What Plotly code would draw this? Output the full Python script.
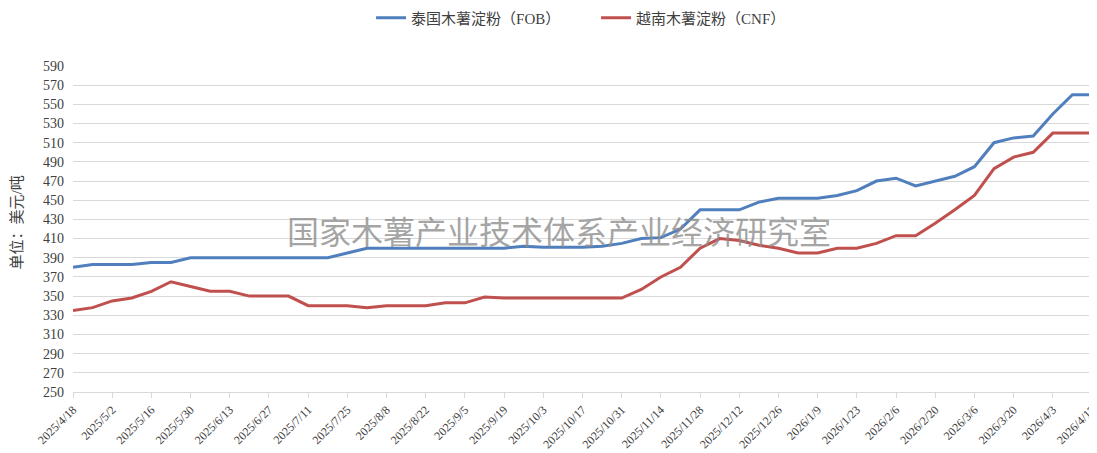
import plotly.graph_objects as go

dates = [
    "2025/4/18", "2025/4/25", "2025/5/2", "2025/5/9", "2025/5/16", "2025/5/23", "2025/5/30",
    "2025/6/6", "2025/6/13", "2025/6/20", "2025/6/27", "2025/7/4", "2025/7/11", "2025/7/18",
    "2025/7/25", "2025/8/1", "2025/8/8", "2025/8/15", "2025/8/22", "2025/8/29", "2025/9/5",
    "2025/9/12", "2025/9/19", "2025/9/26", "2025/10/3", "2025/10/10", "2025/10/17", "2025/10/24",
    "2025/10/31", "2025/11/7", "2025/11/14", "2025/11/21", "2025/11/28", "2025/12/5", "2025/12/12",
    "2025/12/19", "2025/12/26", "2026/1/2", "2026/1/9", "2026/1/16", "2026/1/23", "2026/1/30",
    "2026/2/6", "2026/2/13", "2026/2/20", "2026/2/27", "2026/3/6", "2026/3/13", "2026/3/20",
    "2026/3/27", "2026/4/3", "2026/4/10", "2026/4/17",
]

thai_fob = [
    380, 383, 383, 383, 385, 385, 390, 390, 390, 390, 390, 390, 390, 390,
    395, 400, 400, 400, 400, 400, 400, 400, 400, 402, 401, 401, 401, 402,
    405, 410, 411, 420, 440, 440, 440, 448, 452, 452, 452, 455, 460, 470,
    473, 465, 470, 475, 485, 510, 515, 517, 540, 560, 560,
]

vn_cnf = [
    335, 338, 345, 348, 355, 365, 360, 355, 355, 350, 350, 350, 340, 340,
    340, 338, 340, 340, 340, 343, 343, 349, 348, 348, 348, 348, 348, 348,
    348, 357, 370, 380, 400, 410, 408, 403, 400, 395, 395, 400, 400, 405,
    413, 413, 426, 440, 455, 483, 495, 500, 520, 520, 520,
]

series_names = ["泰国木薯淀粉（FOB）", "越南木薯淀粉（CNF）"]
y_ticks = list(range(250, 591, 20))
x_ticks = dates[::2]
watermark = "国家木薯产业技术体系产业经济研究室"
y_title = "单位：美元/吨"

FONT = "Times New Roman, Liberation Serif, Noto Sans CJK SC, serif"
TXT = "#404040"

fig = go.Figure()
fig.add_trace(go.Scatter(x=dates, y=thai_fob, mode="lines", name=series_names[0],
                         line=dict(color="#4F7FBD", width=3)))
fig.add_trace(go.Scatter(x=dates, y=vn_cnf, mode="lines", name=series_names[1],
                         line=dict(color="#C0504D", width=3)))

fig.add_annotation(text=watermark, xref="paper", yref="paper", x=0.477, y=0.497,
                   xanchor="center", yanchor="middle", showarrow=False,
                   font=dict(family="Noto Sans CJK SC", size=32, color="rgba(140,140,140,0.8)"))

fig.add_annotation(text=y_title, xref="paper", yref="paper", x=-0.054, y=0.52,
                   xanchor="center", yanchor="middle", textangle=-90, showarrow=False,
                   font=dict(family=FONT, size=15, color=TXT))

# page body has an 8px margin, so the figure is drawn 8px smaller and offset
fig.update_layout(
    width=1089, height=445,
    margin=dict(l=65, r=5, t=58, b=61, autoexpand=False),
    paper_bgcolor="white", plot_bgcolor="white",
    font=dict(family=FONT, size=13, color=TXT),
    showlegend=True,
    legend=dict(orientation="h", x=0.2925, xanchor="left", y=1.147, yanchor="middle",
                font=dict(family=FONT, size=15, color=TXT),
                itemwidth=30, entrywidth=180, entrywidthmode="pixels",
                bgcolor="rgba(0,0,0,0)"),
    xaxis=dict(type="category", range=[0, len(dates) - 1], tickmode="array",
               tickvals=x_ticks, ticktext=x_ticks, tickangle=-45, automargin=False,
               tickfont=dict(family=FONT, size=12, color=TXT),
               showgrid=False, showline=True, linecolor="#d9d9d9", linewidth=1,
               ticks="outside", ticklen=5, tickcolor="#d9d9d9", zeroline=False),
    yaxis=dict(range=[250, 590], tickmode="array", tickvals=y_ticks, automargin=False,
               tickfont=dict(family=FONT, size=14, color=TXT),
               showgrid=True, gridcolor="#d9d9d9", gridwidth=1, zeroline=False,
               showline=False, ticks="", ticklabelstandoff=8),
)

fig.write_html("out.html")
